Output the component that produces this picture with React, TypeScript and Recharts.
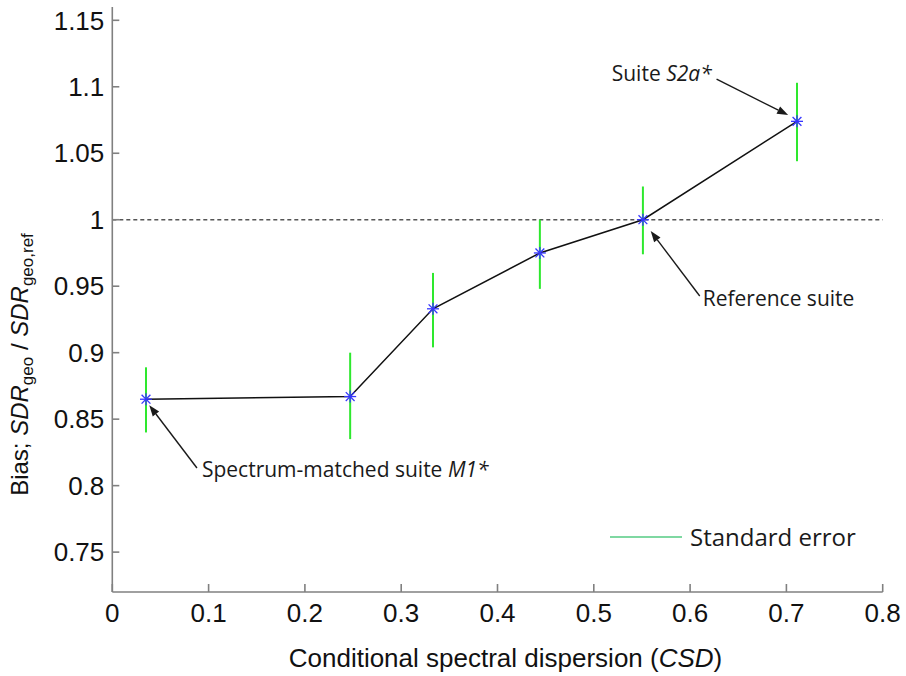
import React from "react";
import {
  ComposedChart,
  Line,
  XAxis,
  YAxis,
  ErrorBar,
  ReferenceLine,
  ReferenceDot,
  Legend,
} from "recharts";

// values
const csd = [0.035, 0.247, 0.333, 0.444, 0.551, 0.711];
const bias = [0.865, 0.867, 0.933, 0.975, 1.0, 1.074];
const seUpper = [0.889, 0.9, 0.96, 1.0, 1.025, 1.103];
const seLower = [0.84, 0.835, 0.904, 0.948, 0.974, 1.044];

const xTicks = [0, 0.1, 0.2, 0.3, 0.4, 0.5, 0.6, 0.7, 0.8];
const yTicks = [0.75, 0.8, 0.85, 0.9, 0.95, 1, 1.05, 1.1, 1.15];

// annotations: label (plain part, italic part), text anchor, arrow start -> end
const noteText = ["Suite ", "Reference suite", "Spectrum-matched suite "];
const noteItalic = ["S2a*", "", "M1*"];
const noteAt = [
  [0.5186, 1.1043],
  [0.6131, 0.9351],
  [0.0931, 0.8065],
];
const arrowFrom = [
  [0.6275, 1.1058],
  [0.61, 0.9426],
  [0.0879, 0.8133],
];
const arrowTo = [
  [0.7018, 1.0787],
  [0.5591, 0.9915],
  [0.0384, 0.8605],
];

const data = csd.map((x, i) => ({
  x,
  bias: bias[i],
  err: [bias[i] - seLower[i], seUpper[i] - bias[i]],
}));

const AXIS = "#808080";
const TICK_FONT = "'Liberation Sans', Arial, sans-serif";
const NOTE_FONT = "'Open Sans', 'Noto Sans', sans-serif";

const fmt = (v: number) => String(+v.toFixed(2));

function Asterisk(props: any) {
  const { cx, cy } = props;
  if (cx == null || cy == null) return null;
  const r = 6;
  const d = 4.4;
  return (
    <g stroke="#3535ff" strokeWidth={1.3}>
      <line x1={cx - r} y1={cy} x2={cx + r} y2={cy} />
      <line x1={cx} y1={cy - r} x2={cx} y2={cy + r} />
      <line x1={cx - d} y1={cy - d} x2={cx + d} y2={cy + d} />
      <line x1={cx - d} y1={cy + d} x2={cx + d} y2={cy - d} />
    </g>
  );
}

function Arrow(props: any) {
  const { x1, y1, x2, y2 } = props;
  if ([x1, y1, x2, y2].some((v) => v == null || isNaN(v))) return null;
  const a = Math.atan2(y2 - y1, x2 - x1);
  const L = 11;
  const W = 4;
  const bx = x2 - L * Math.cos(a);
  const by = y2 - L * Math.sin(a);
  const px = -Math.sin(a) * W;
  const py = Math.cos(a) * W;
  return (
    <g>
      <line x1={x1} y1={y1} x2={bx} y2={by} stroke="#1a1a1a" strokeWidth={1.4} />
      <polygon
        points={`${x2},${y2} ${bx + px},${by + py} ${bx - px},${by - py}`}
        fill="#1a1a1a"
      />
    </g>
  );
}

function noteShape(i: number) {
  return (props: any) => (
    <text
      x={props.cx}
      y={props.cy}
      fontFamily={NOTE_FONT}
      fontSize={21}
      fill="#1a1a1a"
    >
      {noteText[i]}
      {noteItalic[i] && <tspan fontStyle="italic">{noteItalic[i]}</tspan>}
    </text>
  );
}

function YLabel(props: any) {
  const vb = props.viewBox || { x: 52, y: 7, width: 60, height: 585 };
  const x = vb.x - 24;
  const y = vb.y + vb.height / 2 + 65;
  return (
    <text
      x={x}
      y={y}
      transform={`rotate(-90 ${x} ${y})`}
      textAnchor="middle"
      fontFamily={TICK_FONT}
      fontSize={24}
      fill="#111"
    >
      Bias;{" "}
      <tspan fontStyle="italic">SDR</tspan>
      <tspan fontSize={17} dy={5}>geo</tspan>
      <tspan dy={-5}> / </tspan>
      <tspan fontStyle="italic">SDR</tspan>
      <tspan fontSize={17} dy={5}>geo,ref</tspan>
    </text>
  );
}

function XLabel(props: any) {
  const vb = props.viewBox || { x: 112, y: 592, width: 770, height: 84 };
  return (
    <text
      x={vb.x + vb.width / 2 + 8}
      y={vb.y + 75}
      textAnchor="middle"
      fontFamily={TICK_FONT}
      fontSize={26}
      fill="#111"
    >
      Conditional spectral dispersion (<tspan fontStyle="italic">CSD</tspan>)
    </text>
  );
}

function SeLegend() {
  return (
    <svg width={270} height={44}>
      <line x1={2} y1={22} x2={74} y2={22} stroke="#7fd8a2" strokeWidth={2} />
      <text x={82} y={31} fontFamily={NOTE_FONT} fontSize={24} fill="#1a1a1a">
        Standard error
      </text>
    </svg>
  );
}

export default function App() {
  return (
    <div style={{ position: "absolute", left: 0, top: 0, background: "#fff" }}>
      <ComposedChart
        width={906}
        height={676}
        data={data}
        margin={{ top: 7, right: 23.3, bottom: 0, left: 52.3 }}
      >
        <XAxis
          dataKey="x"
          type="number"
          domain={[0, 0.8]}
          ticks={xTicks}
          tickFormatter={fmt}
          height={84}
          stroke={AXIS}
          strokeWidth={1.6}
          tickSize={-8}
          tickMargin={20}
          tick={{ fill: "#111", fontSize: 26, fontFamily: TICK_FONT }}
          label={<XLabel />}
        />
        <YAxis
          type="number"
          domain={[0.72, 1.16]}
          ticks={yTicks}
          allowDataOverflow
          tickFormatter={fmt}
          width={60}
          stroke={AXIS}
          strokeWidth={1.6}
          tickSize={-7}
          tickMargin={15}
          tick={{ fill: "#111", fontSize: 26, fontFamily: TICK_FONT }}
          label={<YLabel />}
        />
        <ReferenceLine
          y={1}
          stroke="#555"
          strokeWidth={1.3}
          strokeDasharray="4 3"
        />
        <Line
          dataKey="bias"
          stroke="#111"
          strokeWidth={1.5}
          dot={<Asterisk />}
          activeDot={false}
          isAnimationActive={false}
          legendType="none"
        >
          <ErrorBar
            dataKey="err"
            width={0}
            stroke="#2ee82e"
            strokeWidth={2}
            direction="y"
            isAnimationActive={false}
          />
        </Line>
        {noteText.map((_, i) => (
          <ReferenceLine
            key={`a${i}`}
            segment={[
              { x: arrowFrom[i][0], y: arrowFrom[i][1] },
              { x: arrowTo[i][0], y: arrowTo[i][1] },
            ]}
            ifOverflow="visible"
            shape={<Arrow />}
          />
        ))}
        {noteText.map((_, i) => (
          <ReferenceDot
            key={`n${i}`}
            x={noteAt[i][0]}
            y={noteAt[i][1]}
            r={0}
            ifOverflow="visible"
            shape={noteShape(i)}
          />
        ))}
        <Legend
          layout="vertical"
          align="center"
          verticalAlign="middle"
          content={<SeLegend />}
          wrapperStyle={{ left: 608, top: 515, width: 270 }}
        />
      </ComposedChart>
    </div>
  );
}
